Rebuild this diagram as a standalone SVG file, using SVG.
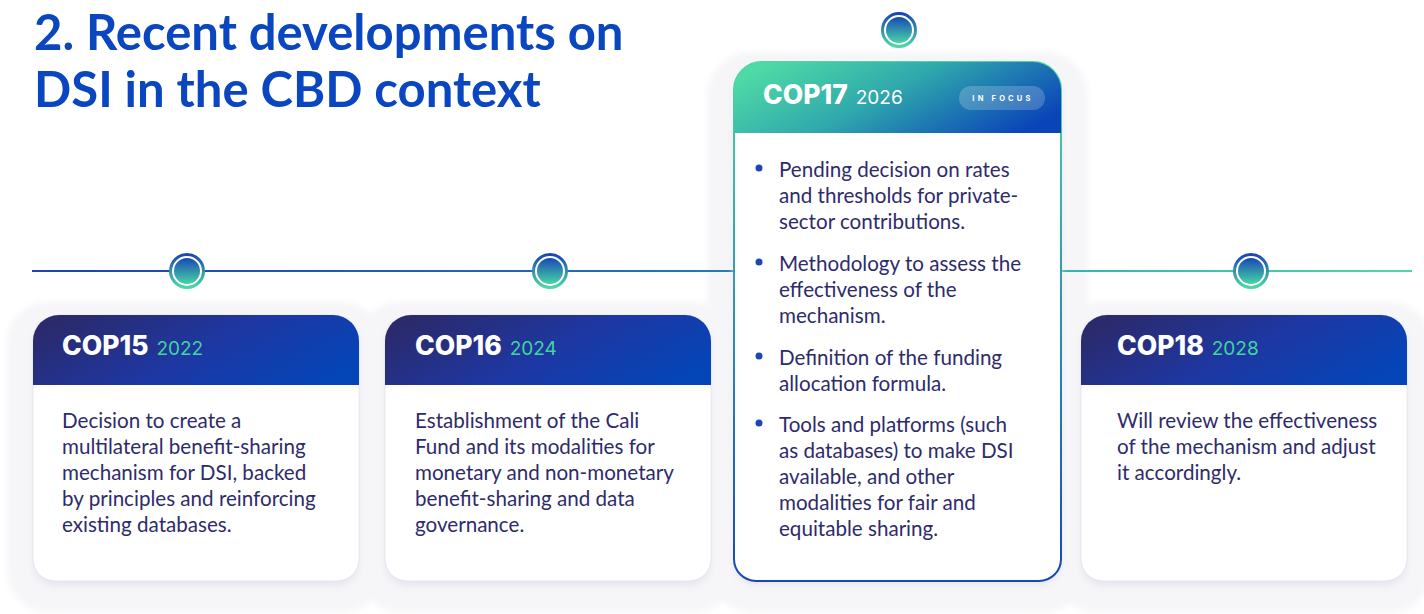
<svg xmlns="http://www.w3.org/2000/svg" width="1424" height="614" viewBox="0 0 1424 614">
  <defs>
    <style>
      .title { font-family: Lato, "Liberation Sans", sans-serif; font-weight: 700; font-size: 49px; fill: #0a46bf; }
      .cop { font-family: Inter, "Liberation Sans", sans-serif; font-weight: 800; font-size: 26.5px; fill: #ffffff; }
      .year { font-family: Inter, "Liberation Sans", sans-serif; font-weight: 400; font-size: 19px; fill: #3fd69c; }
      .year17 { fill: #ffffff; }
      .body { font-family: Lato, "Liberation Sans", sans-serif; font-weight: 400; font-size: 20.6px; fill: #2e2b6b; }
      .badge { font-family: Inter, "Liberation Sans", sans-serif; font-weight: 700; font-size: 7.5px; fill: #ffffff; letter-spacing: 3.2px; }
      .halo { fill: #f6f6f9; filter: url(#soft); }
      .shadow { fill: #e6e6ef; filter: url(#soft); }
      .cardbody { fill: #ffffff; stroke: #e6e6f0; stroke-width: 1; }
      .bullet { fill: #1a46b8; }
    </style>
    <filter id="soft" x="-20%" y="-20%" width="140%" height="140%">
      <feGaussianBlur stdDeviation="3"/>
    </filter>
    <linearGradient id="lineGrad" gradientUnits="userSpaceOnUse" x1="32" y1="0" x2="1412" y2="0">
      <stop offset="0" stop-color="#1c44b2"/>
      <stop offset="0.45" stop-color="#2270b6"/>
      <stop offset="0.75" stop-color="#35b3ad"/>
      <stop offset="1" stop-color="#4fd8a5"/>
    </linearGradient>
    <linearGradient id="ringGrad" x1="0" y1="0" x2="0" y2="1">
      <stop offset="0" stop-color="#1a46b5"/>
      <stop offset="1" stop-color="#4cd9a5"/>
    </linearGradient>
    <linearGradient id="dotGrad" x1="0" y1="0" x2="0" y2="1">
      <stop offset="0" stop-color="#1b48b4"/>
      <stop offset="1" stop-color="#46d6a6"/>
    </linearGradient>
    <linearGradient id="darkHead" x1="0" y1="0.3" x2="1" y2="0.7">
      <stop offset="0" stop-color="#2b2a6c"/>
      <stop offset="0.5" stop-color="#1e37a2"/>
      <stop offset="1" stop-color="#0445b8"/>
    </linearGradient>
    <linearGradient id="focusHead" x1="0" y1="0.3" x2="1" y2="0.7">
      <stop offset="0" stop-color="#4ed9a6"/>
      <stop offset="0.45" stop-color="#2fa8ad"/>
      <stop offset="1" stop-color="#0a44b8"/>
    </linearGradient>
    <linearGradient id="focusBorder" gradientUnits="userSpaceOnUse" x1="0" y1="62" x2="0" y2="581">
      <stop offset="0" stop-color="#4dd6a6"/>
      <stop offset="1" stop-color="#1847b4"/>
    </linearGradient>
  </defs>

  <rect width="1424" height="614" fill="#ffffff"/>

  <!-- Heading -->
  <g id="heading">
    <text class="title" x="34" y="50">2. Recent developments on</text>
    <text class="title" x="34" y="107">DSI in the CBD context</text>
  </g>

  <!-- Soft backdrops behind the cards -->
  <g id="backdrops">
    <rect class="halo" x="7" y="302" width="376" height="310" rx="40"/>
    <rect class="halo" x="359" y="302" width="376" height="310" rx="40"/>
    <rect class="halo" x="1055" y="302" width="376" height="310" rx="40"/>
    <rect class="halo" x="707" y="52" width="381" height="560" rx="44"/>
  </g>

  <!-- Timeline axis -->
  <g id="connectors">
    <line x1="32" y1="271" x2="1412" y2="271" stroke="url(#lineGrad)" stroke-width="2"/>
  </g>

  <!-- COP15 -->
  <g id="cop15">
    <path class="shadow" d="M33,345 a26,26 0 0 1 26,-26 H333 a26,26 0 0 1 26,26 V564 a22,22 0 0 1 -22,22 H55 a22,22 0 0 1 -22,-22 Z"/>
    <path class="cardbody" d="M33,341 a26,26 0 0 1 26,-26 H333 a26,26 0 0 1 26,26 V559 a22,22 0 0 1 -22,22 H55 a22,22 0 0 1 -22,-22 Z"/>
    <path d="M33,341 a26,26 0 0 1 26,-26 H333 a26,26 0 0 1 26,26 V385 H33 Z" fill="url(#darkHead)"/>
    <text x="62" y="355"><tspan class="cop">COP15</tspan><tspan class="year" dx="8">2022</tspan></text>
    <text class="body">
      <tspan x="62" y="428">Decision to create a</tspan>
      <tspan x="62" y="454">multilateral benefit-sharing</tspan>
      <tspan x="62" y="480">mechanism for DSI, backed</tspan>
      <tspan x="62" y="506">by principles and reinforcing</tspan>
      <tspan x="62" y="532">existing databases.</tspan>
    </text>
    <circle cx="187" cy="271" r="16.5" fill="#ffffff" stroke="url(#ringGrad)" stroke-width="3"/>
    <circle cx="187" cy="271" r="13" fill="url(#dotGrad)"/>
  </g>

  <!-- COP16 -->
  <g id="cop16">
    <path class="shadow" d="M385,345 a26,26 0 0 1 26,-26 H685 a26,26 0 0 1 26,26 V564 a22,22 0 0 1 -22,22 H407 a22,22 0 0 1 -22,-22 Z"/>
    <path class="cardbody" d="M385,341 a26,26 0 0 1 26,-26 H685 a26,26 0 0 1 26,26 V559 a22,22 0 0 1 -22,22 H407 a22,22 0 0 1 -22,-22 Z"/>
    <path d="M385,341 a26,26 0 0 1 26,-26 H685 a26,26 0 0 1 26,26 V385 H385 Z" fill="url(#darkHead)"/>
    <text x="415" y="355"><tspan class="cop">COP16</tspan><tspan class="year" dx="8">2024</tspan></text>
    <text class="body">
      <tspan x="415" y="428">Establishment of the Cali</tspan>
      <tspan x="415" y="454">Fund and its modalities for</tspan>
      <tspan x="415" y="480">monetary and non-monetary</tspan>
      <tspan x="415" y="506">benefit-sharing and data</tspan>
      <tspan x="415" y="532">governance.</tspan>
    </text>
    <circle cx="550" cy="271" r="16.5" fill="#ffffff" stroke="url(#ringGrad)" stroke-width="3"/>
    <circle cx="550" cy="271" r="13" fill="url(#dotGrad)"/>
  </g>

  <!-- COP18 -->
  <g id="cop18">
    <path class="shadow" d="M1081,345 a26,26 0 0 1 26,-26 H1381 a26,26 0 0 1 26,26 V564 a22,22 0 0 1 -22,22 H1103 a22,22 0 0 1 -22,-22 Z"/>
    <path class="cardbody" d="M1081,341 a26,26 0 0 1 26,-26 H1381 a26,26 0 0 1 26,26 V559 a22,22 0 0 1 -22,22 H1103 a22,22 0 0 1 -22,-22 Z"/>
    <path d="M1081,341 a26,26 0 0 1 26,-26 H1381 a26,26 0 0 1 26,26 V385 H1081 Z" fill="url(#darkHead)"/>
    <text x="1117" y="355"><tspan class="cop">COP18</tspan><tspan class="year" dx="8">2028</tspan></text>
    <text class="body">
      <tspan x="1117" y="428">Will review the effectiveness</tspan>
      <tspan x="1117" y="454">of the mechanism and adjust</tspan>
      <tspan x="1117" y="480">it accordingly.</tspan>
    </text>
    <circle cx="1251" cy="271" r="16.5" fill="#ffffff" stroke="url(#ringGrad)" stroke-width="3"/>
    <circle cx="1251" cy="271" r="13" fill="url(#dotGrad)"/>
  </g>

  <!-- COP17 (in focus) -->
  <g id="cop17">
    <path class="shadow" d="M734,94 a28,28 0 0 1 28,-28 H1033 a28,28 0 0 1 28,28 V563 a22,22 0 0 1 -22,22 H756 a22,22 0 0 1 -22,-22 Z"/>
    <path d="M734,90 a28,28 0 0 1 28,-28 H1033 a28,28 0 0 1 28,28 V559 a22,22 0 0 1 -22,22 H756 a22,22 0 0 1 -22,-22 Z" fill="#ffffff" stroke="url(#focusBorder)" stroke-width="2"/>
    <path d="M734,90 a28,28 0 0 1 28,-28 H1033 a28,28 0 0 1 28,28 V133 H734 Z" fill="url(#focusHead)"/>
    <text x="763" y="104"><tspan class="cop">COP17</tspan><tspan class="year year17" dx="8">2026</tspan></text>
    <rect x="959" y="86" width="86" height="24" rx="12" fill="#ffffff" fill-opacity="0.2"/>
    <text class="badge" x="1003" y="100.5" text-anchor="middle">IN FOCUS</text>
    <circle class="bullet" cx="759" cy="168" r="3.5"/>
    <circle class="bullet" cx="759" cy="262" r="3.5"/>
    <circle class="bullet" cx="759" cy="356" r="3.5"/>
    <circle class="bullet" cx="759" cy="423" r="3.5"/>
    <text class="body">
      <tspan x="779" y="177">Pending decision on rates</tspan>
      <tspan x="779" y="203">and thresholds for private-</tspan>
      <tspan x="779" y="229">sector contributions.</tspan>
      <tspan x="779" y="271">Methodology to assess the</tspan>
      <tspan x="779" y="297">effectiveness of the</tspan>
      <tspan x="779" y="323">mechanism.</tspan>
      <tspan x="779" y="365">Definition of the funding</tspan>
      <tspan x="779" y="391">allocation formula.</tspan>
      <tspan x="779" y="432">Tools and platforms (such</tspan>
      <tspan x="779" y="458">as databases) to make DSI</tspan>
      <tspan x="779" y="484">available, and other</tspan>
      <tspan x="779" y="510">modalities for fair and</tspan>
      <tspan x="779" y="536">equitable sharing.</tspan>
    </text>
    <circle cx="899" cy="30" r="16.5" fill="#ffffff" stroke="url(#ringGrad)" stroke-width="3"/>
    <circle cx="899" cy="30" r="13" fill="url(#dotGrad)"/>
  </g>
</svg>
